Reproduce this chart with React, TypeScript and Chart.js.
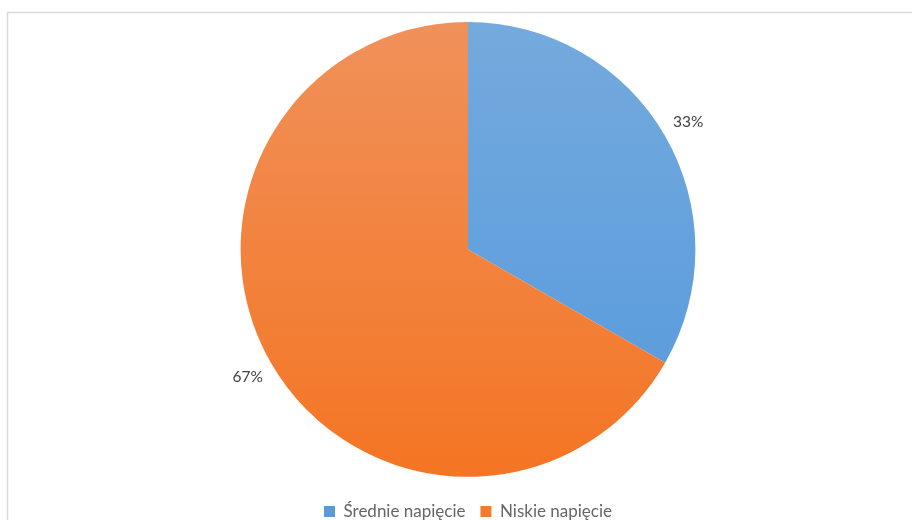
import React, { useEffect, useRef } from "react";
import { Chart, registerables } from "chart.js";

Chart.register(...registerables);

const categories = ["Średnie napięcie", "Niskie napięcie"];
const values = [33.3, 66.7];
const topColors = ["#74aadd", "#f0915a"];
const bottomColors = ["#5599dd", "#f47523"];
const legendColors = ["#5b9bd5", "#ed7d31"];

const framePlugin = {
  id: "frame",
  beforeDraw(chart: any) {
    const ctx = chart.ctx;
    ctx.save();
    ctx.fillStyle = "#ffffff";
    ctx.fillRect(0, 0, chart.width, chart.height);
    ctx.strokeStyle = "#d9d9d9";
    ctx.lineWidth = 1.5;
    ctx.strokeRect(7.5, 12.5, 1200, 1200);
    ctx.restore();
  },
};

const pctPlugin = {
  id: "pctLabels",
  afterDatasetsDraw(chart: any) {
    const ctx = chart.ctx;
    const meta = chart.getDatasetMeta(0);
    const data = chart.data.datasets[0].data as number[];
    const total = data.reduce((a, b) => a + b, 0);
    ctx.save();
    ctx.font = "15.5px Lato, 'Open Sans', sans-serif";
    ctx.fillStyle = "#404040";
    ctx.textAlign = "center";
    ctx.textBaseline = "middle";
    meta.data.forEach((arc: any, i: number) => {
      const p = arc.getProps(["x", "y", "startAngle", "endAngle", "outerRadius"], true);
      const mid = (p.startAngle + p.endAngle) / 2;
      const r = p.outerRadius + 27;
      const x = p.x + Math.cos(mid) * r;
      const y = p.y + Math.sin(mid) * r;
      ctx.fillText(Math.round((data[i] / total) * 100) + "%", x, y);
    });
    ctx.restore();
  },
};

export default function App() {
  const ref = useRef<HTMLCanvasElement>(null);
  useEffect(() => {
    if (!ref.current) return;
    const grad = (c: any) => {
      const chart = c.chart;
      const i = c.dataIndex ?? 0;
      const area = chart.chartArea;
      if (!area) return bottomColors[i];
      const g = chart.ctx.createLinearGradient(0, area.top, 0, area.bottom);
      g.addColorStop(0, topColors[i]);
      g.addColorStop(1, bottomColors[i]);
      return g;
    };
    const chart = new Chart(ref.current, {
      type: "pie",
      data: {
        labels: categories,
        datasets: [
          {
            data: values,
            backgroundColor: grad as any,
            borderColor: "#ffffff",
            borderWidth: 0,
          },
        ],
      },
      options: {
        animation: false,
        responsive: true,
        maintainAspectRatio: false,
        layout: { padding: { top: 22, left: 24, right: 0, bottom: -10 } },
        plugins: {
          legend: {
            position: "bottom",
            title: {
              display: true,
              text: "",
              font: { size: 1 },
              padding: { top: 5, bottom: 5 },
            },
            labels: {
              boxWidth: 11,
              boxHeight: 11,
              padding: 15,
              color: "#404040",
              font: { family: "Lato, 'Open Sans', sans-serif", size: 17 },
              generateLabels: () =>
                categories.map((t, i) => ({
                  text: t,
                  fillStyle: legendColors[i],
                  strokeStyle: legendColors[i],
                  lineWidth: 0,
                  hidden: false,
                  index: i,
                  datasetIndex: 0,
                })),
            },
          },
          tooltip: { enabled: false },
        },
      },
      plugins: [framePlugin, pctPlugin],
    });
    return () => chart.destroy();
  }, []);
  return (
    <div style={{ position: "fixed", left: 0, top: 0, width: 912, height: 520 }}>
      <canvas ref={ref} />
    </div>
  );
}
